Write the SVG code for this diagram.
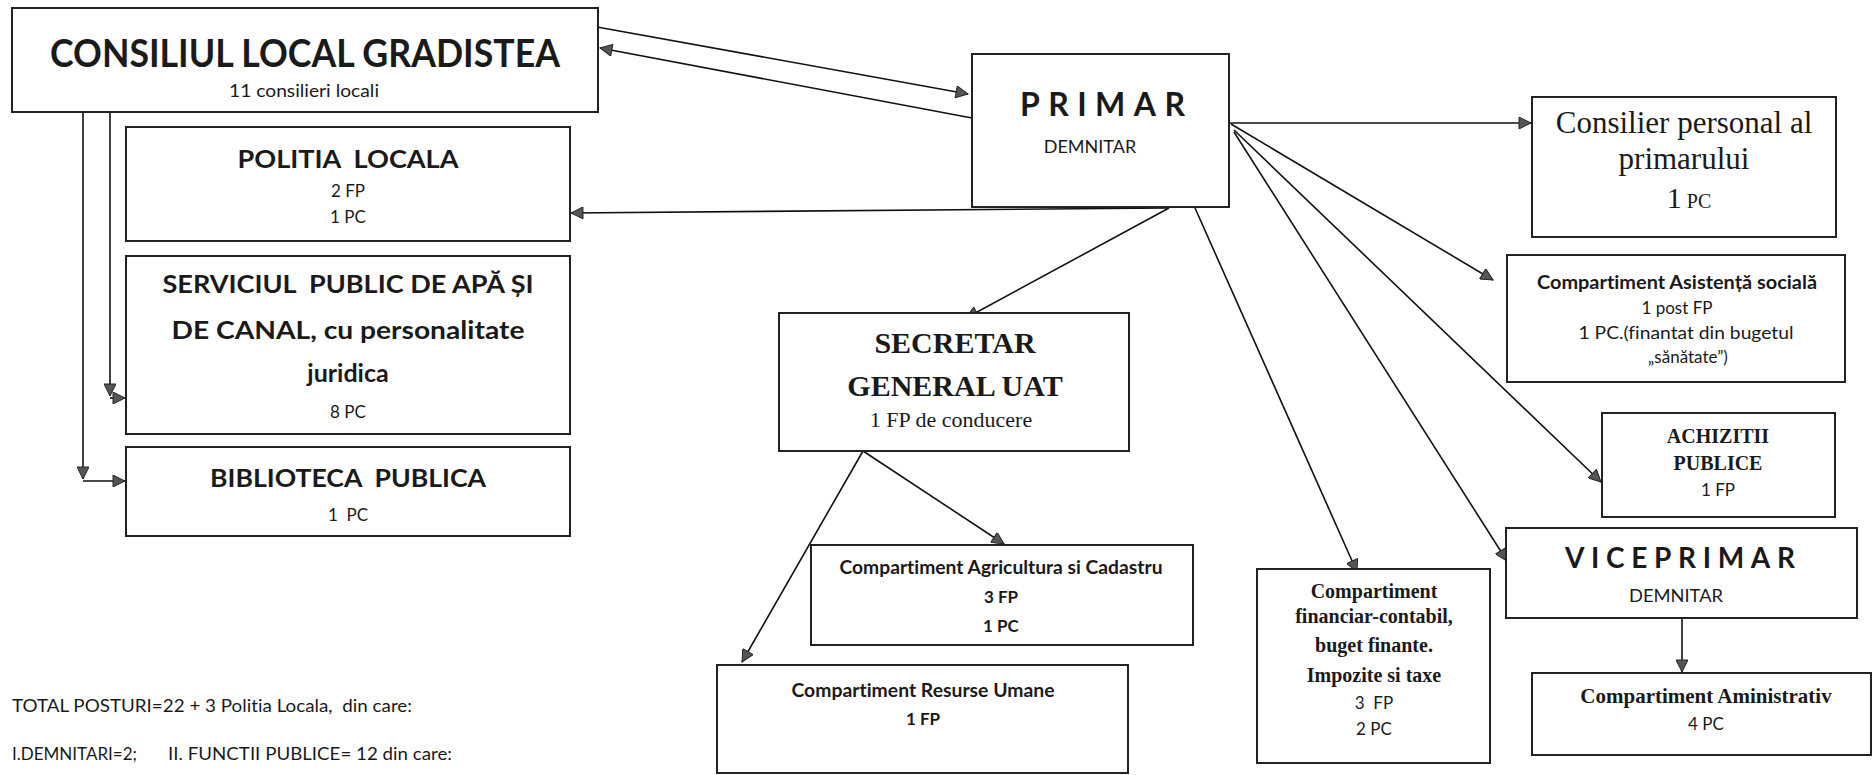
<svg xmlns="http://www.w3.org/2000/svg" width="1874" height="775" viewBox="0 0 1874 775">
<style>
.box{fill:#fff;stroke:#222;stroke-width:2}
.ln{fill:none;stroke:#111;stroke-width:1.6;marker-end:url(#ah)}
.sb{font-family:Lato,"Liberation Sans",sans-serif;font-weight:bold;fill:#1a1a1a;font-variant-ligatures:none;font-feature-settings:"liga" 0}
.sr{font-family:Lato,"Liberation Sans",sans-serif;font-weight:normal;fill:#1a1a1a;font-variant-ligatures:none;font-feature-settings:"liga" 0}
.tb{font-family:"Liberation Serif","Times New Roman",serif;font-weight:bold;fill:#1a1a1a}
.tr{font-family:"Liberation Serif","Times New Roman",serif;font-weight:normal;fill:#1a1a1a}
.c{text-anchor:middle}
</style>
<defs>
<marker id="ah" viewBox="0 0 10 10" refX="10" refY="5" markerWidth="14" markerHeight="12" markerUnits="userSpaceOnUse" orient="auto">
<path d="M0,0 L10,5 L0,10 z" fill="#555" stroke="#222" stroke-width="0.8"/>
</marker>
</defs>
<rect width="1874" height="775" fill="#fff"/>

<g id="connectors">
<line class="ln" x1="597" y1="27" x2="968" y2="94"/>
<line class="ln" x1="972" y1="118" x2="600" y2="48"/>
<line class="ln" x1="1169" y1="208" x2="571" y2="213"/>
<path class="ln" d="M110,112 V396"/>
<path class="ln" d="M110,398 H125"/>
<path class="ln" d="M83,112 V479"/>
<path class="ln" d="M83,481 H125"/>
<line class="ln" x1="1169" y1="208" x2="966" y2="318"/>
<line class="ln" x1="1195" y1="208" x2="1357" y2="572"/>
<line class="ln" x1="1229" y1="123" x2="1531" y2="123"/>
<line class="ln" x1="1231" y1="124" x2="1493" y2="280"/>
<line class="ln" x1="1234" y1="130" x2="1601" y2="482"/>
<line class="ln" x1="1234" y1="132" x2="1507" y2="561"/>
<line class="ln" x1="863" y1="451" x2="1004" y2="544"/>
<line class="ln" x1="863" y1="451" x2="742" y2="662"/>
<line class="ln" x1="1682" y1="598" x2="1682" y2="672"/>
</g>

<g id="consiliul">
<rect class="box" x="12" y="8" width="586" height="104"/>
<text class="sb c" x="305" y="67" font-size="39" textLength="510" lengthAdjust="spacingAndGlyphs">CONSILIUL LOCAL GRADISTEA</text>
<text class="sr c" x="304" y="97" font-size="17" textLength="150" lengthAdjust="spacingAndGlyphs">11 consilieri locali</text>
</g>

<g id="politia">
<rect class="box" x="126" y="127" width="444" height="114"/>
<text class="sb c" x="348" y="168" font-size="25" textLength="221" lengthAdjust="spacingAndGlyphs" xml:space="preserve">POLITIA  LOCALA</text>
<text class="sr c" x="348" y="197" font-size="17">2 FP</text>
<text class="sr c" x="348" y="223" font-size="17">1 PC</text>
</g>

<g id="serviciul">
<rect class="box" x="126" y="256" width="444" height="178"/>
<text class="sb c" x="348" y="293" font-size="25" textLength="371" lengthAdjust="spacingAndGlyphs" xml:space="preserve">SERVICIUL  PUBLIC DE APĂ ȘI</text>
<text class="sb c" x="348" y="339" font-size="25" textLength="353" lengthAdjust="spacingAndGlyphs">DE CANAL, cu personalitate</text>
<text class="sb c" x="348" y="382" font-size="25">juridica</text>
<text class="sr c" x="348" y="418" font-size="17">8 PC</text>
</g>

<g id="biblioteca">
<rect class="box" x="126" y="447" width="444" height="89"/>
<text class="sb c" x="348" y="487" font-size="25" textLength="276" lengthAdjust="spacingAndGlyphs" xml:space="preserve">BIBLIOTECA  PUBLICA</text>
<text class="sr c" x="348" y="521" font-size="17" xml:space="preserve">1  PC</text>
</g>

<g id="primar">
<rect class="box" x="972" y="54" width="257" height="153"/>
<text class="sb" x="1020" y="116" font-size="32" textLength="165" lengthAdjust="spacing">PRIMAR</text>
<text class="sr c" x="1090" y="153" font-size="18">DEMNITAR</text>
</g>

<g id="consilier-personal">
<rect class="box" x="1532" y="97" width="304" height="140"/>
<text class="tr c" x="1684" y="133" font-size="31">Consilier personal al</text>
<text class="tr c" x="1684" y="169" font-size="31">primarului</text>
<text class="tr c" x="1689" y="208"><tspan font-size="30">1</tspan><tspan font-size="20"> PC</tspan></text>
</g>

<g id="asistenta">
<rect class="box" x="1507" y="255" width="338" height="127"/>
<text class="sb c" x="1677" y="289" font-size="18" textLength="280" lengthAdjust="spacingAndGlyphs">Compartiment Asistență socială</text>
<text class="sr c" x="1677" y="314" font-size="17">1 post FP</text>
<text class="sr c" x="1686" y="339" font-size="17" textLength="215" lengthAdjust="spacingAndGlyphs">1 PC.(finantat din bugetul</text>
<text class="sr c" x="1688" y="363" font-size="17">„sănătate”)</text>
</g>

<g id="achizitii">
<rect class="box" x="1602" y="413" width="233" height="104"/>
<text class="tb c" x="1718" y="443" font-size="20">ACHIZITII</text>
<text class="tb c" x="1718" y="470" font-size="20">PUBLICE</text>
<text class="sr c" x="1718" y="496" font-size="17">1 FP</text>
</g>

<g id="viceprimar">
<rect class="box" x="1506" y="528" width="351" height="90"/>
<text class="sb" x="1565" y="568" font-size="28" textLength="230" lengthAdjust="spacing">VICEPRIMAR</text>
<text class="sr" x="1629" y="602" font-size="18" textLength="94" lengthAdjust="spacingAndGlyphs">DEMNITAR</text>
</g>

<g id="aministrativ">
<rect class="box" x="1532" y="673" width="339" height="82"/>
<text class="tb c" x="1706" y="703" font-size="21">Compartiment Aministrativ</text>
<text class="sr c" x="1706" y="730" font-size="17">4 PC</text>
</g>

<g id="secretar">
<rect class="box" x="779" y="313" width="350" height="138"/>
<text class="tb c" x="955" y="353" font-size="30">SECRETAR</text>
<text class="tb c" x="955" y="396" font-size="30">GENERAL UAT</text>
<text class="tr c" x="951" y="427" font-size="22">1 FP de conducere</text>
</g>

<g id="agricultura">
<rect class="box" x="811" y="545" width="382" height="100"/>
<text class="sb c" x="1001" y="574" font-size="18" textLength="323" lengthAdjust="spacingAndGlyphs">Compartiment Agricultura si Cadastru</text>
<text class="sb c" x="1001" y="603" font-size="17">3 FP</text>
<text class="sb c" x="1001" y="632" font-size="17">1 PC</text>
</g>

<g id="resurse-umane">
<rect class="box" x="717" y="665" width="411" height="108"/>
<text class="sb c" x="923" y="697" font-size="18" textLength="263" lengthAdjust="spacingAndGlyphs">Compartiment Resurse Umane</text>
<text class="sb c" x="923" y="725" font-size="17">1 FP</text>
</g>

<g id="financiar">
<rect class="box" x="1257" y="569" width="233" height="194"/>
<text class="tb c" x="1374" y="598" font-size="20">Compartiment</text>
<text class="tb c" x="1374" y="623" font-size="20">financiar-contabil,</text>
<text class="tb c" x="1374" y="652" font-size="20">buget finante.</text>
<text class="tb c" x="1374" y="682" font-size="20">Impozite si taxe</text>
<text class="sr c" x="1374" y="709" font-size="17" xml:space="preserve">3  FP</text>
<text class="sr c" x="1374" y="735" font-size="17">2 PC</text>
</g>

<g id="note">
<text class="sr" x="12" y="712" font-size="17" textLength="400" lengthAdjust="spacingAndGlyphs" xml:space="preserve">TOTAL POSTURI=22 + 3 Politia Locala,  din care:</text>
<text class="sr" x="12" y="760" font-size="17" textLength="125" lengthAdjust="spacingAndGlyphs">I.DEMNITARI=2;</text>
<text class="sr" x="168" y="760" font-size="17" textLength="284" lengthAdjust="spacingAndGlyphs">II. FUNCTII PUBLICE= 12 din care:</text>
</g>
</svg>
